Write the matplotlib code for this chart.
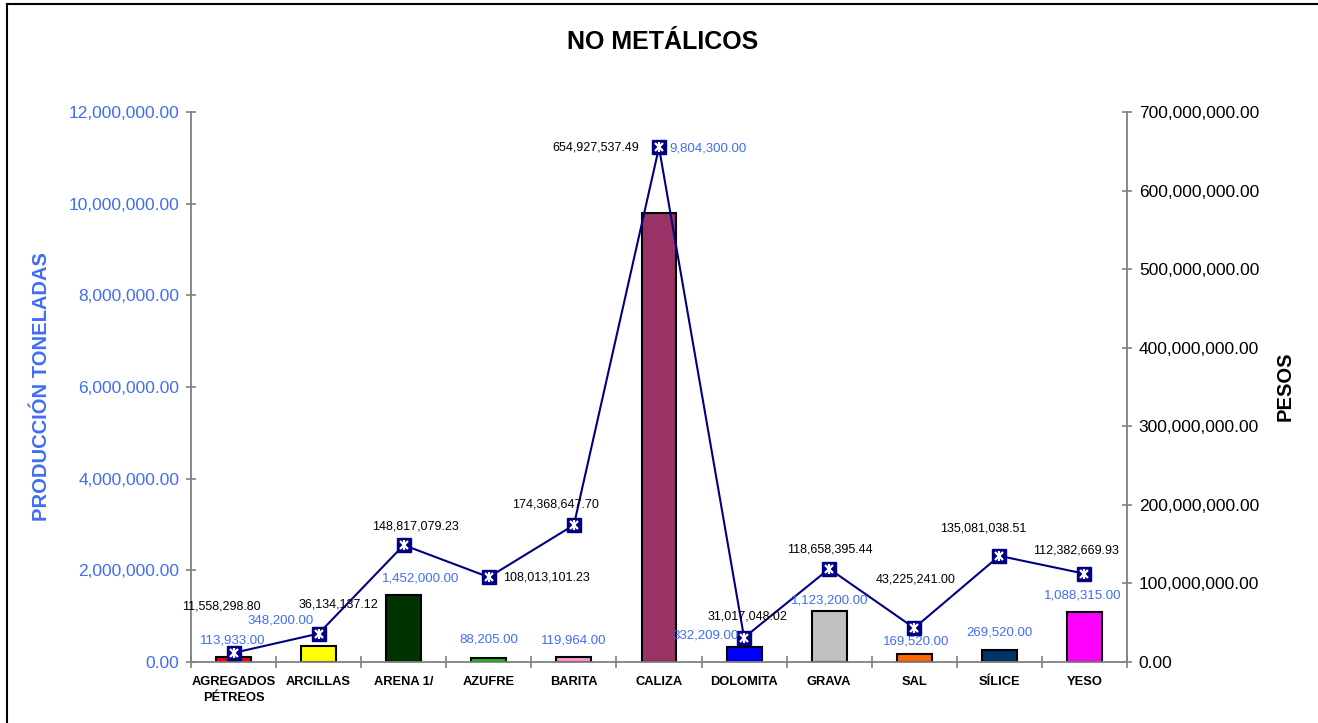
import matplotlib
matplotlib.use('Agg')
import matplotlib.pyplot as plt
import matplotlib.ticker as mticker
from matplotlib.lines import Line2D
import numpy as np

plt.rcParams['font.family'] = ['Liberation Sans', 'DejaVu Sans']

minerales = ['AGREGADOS\nPÉTREOS', 'ARCILLAS', 'ARENA 1/', 'AZUFRE', 'BARITA', 'CALIZA',
             'DOLOMITA', 'GRAVA', 'SAL', 'SÍLICE', 'YESO']
toneladas = [113933.00, 348200.00, 1452000.00, 88205.00, 119964.00, 9804300.00,
             332209.00, 1123200.00, 169520.00, 269520.00, 1088315.00]
pesos = [11558298.80, 36134137.12, 148817079.23, 108013101.23, 174368647.70, 654927537.49,
         31017048.02, 118658395.44, 43225241.00, 135081038.51, 112382669.93]
colores = ['#FF0000', '#FFFF00', '#003300', '#00CC00', '#FF99CC', '#993366',
           '#0000FF', '#C0C0C0', '#FF6600', '#003366', '#FF00FF']

# label offsets in pixels (dx, dy), as the labels were placed in the original sheet
off_pesos = [(-12, 46), (20, 29), (12, 19), (58, 0), (-18, 20), (-63, 0),
             (3, 21), (1, 19), (1, 49), (-16, 27), (-8, 23)]
off_ton = [(-1, 16), (-38, 26), (17, 17), (0, 18), (0, 16), (49, 64),
           (-39, 11), (1, 10), (2, 13), (0, 17), (-2, 17)]

azul = '#3F6DF5'
gris = '#808080'
navy = '#000080'

fig = plt.figure(figsize=[13.18, 7.23], dpi=100)
ax = fig.add_axes([191/1318, 1-662/723, 936/1318, 550/723])
ax2 = ax.twinx()

x = np.arange(len(minerales))
ax.bar(x, toneladas, width=0.41, color=colores, edgecolor='black', linewidth=1.5, zorder=2)
ax.set_xlim(-0.5, len(minerales)-0.5)
ax.set_ylim(0, 12000000)
ax.set_yticks(np.arange(0, 12000001, 2000000))
ax.yaxis.set_major_formatter(mticker.FuncFormatter(lambda v, p: '{:,.2f}'.format(v)))

ax2.plot(x, pesos, color=navy, linewidth=1.5, marker='s', markersize=10,
         markerfacecolor=navy, markeredgecolor=navy, zorder=3)
ax2.plot(x, pesos, linestyle='none', marker='x', markersize=6, markeredgewidth=1.6,
         color='white', zorder=4)
ax2.plot(x, pesos, linestyle='none', marker='|', markersize=7, markeredgewidth=1.6,
         color='white', zorder=4)
ax2.set_ylim(0, 700000000)
ax2.set_yticks(np.arange(0, 700000001, 100000000))
ax2.yaxis.set_major_formatter(mticker.FuncFormatter(lambda v, p: '{:,.2f}'.format(v)))

for a in (ax, ax2):
    for s in a.spines.values():
        s.set_visible(False)
ax.spines['left'].set_visible(True)
ax.spines['bottom'].set_visible(True)
ax2.spines['right'].set_visible(True)
for s in (ax.spines['left'], ax.spines['bottom'], ax2.spines['right']):
    s.set_color(gris)
    s.set_linewidth(1.3)

ax.tick_params(axis='y', direction='inout', length=7, width=1.2, color=gris,
               labelsize=12.5, labelcolor=azul, pad=5)
ax2.tick_params(axis='y', direction='inout', length=7, width=1.2, color=gris,
                labelsize=12.5, labelcolor='black', pad=5)

# x ticks at category boundaries, labels at centers
ax.set_xticks(np.arange(-0.5, len(minerales), 1))
ax.set_xticklabels([])
ax.tick_params(axis='x', which='major', direction='inout', length=8, width=1.2, color=gris)
ax.set_xticks(x, minor=True)
ax.set_xticklabels(minerales, minor=True, fontsize=9.3, fontweight='bold',
                   linespacing=1.5, va='top')
ax.tick_params(axis='x', which='minor', length=0, pad=10)

for i in x:
    ax2.annotate('{:,.2f}'.format(pesos[i]), (i, pesos[i]), xytext=off_pesos[i],
                 textcoords='offset pixels', ha='center', va='center',
                 fontsize=9, color='black', zorder=5)
    ax2.annotate('{:,.2f}'.format(toneladas[i]), (i, toneladas[i] / 12000000 * 700000000),
                 xytext=off_ton[i], textcoords='offset pixels', ha='center', va='center',
                 fontsize=9.5, color=azul, zorder=5)

fig.text(0.503, 1-42/723, 'NO METÁLICOS', ha='center', va='center',
         fontsize=18, fontweight='bold')
fig.text(42/1318, 1-387/723, 'PRODUCCIÓN TONELADAS', ha='center', va='center',
         rotation=90, fontsize=14.5, fontweight='bold', color=azul)
fig.text(1285/1318, 1-386/723, 'PESOS', ha='center', va='center',
         rotation=90, fontsize=14.5, fontweight='bold', color='black')

# chart frame: only the left and top edges fall inside the picture
fig.add_artist(Line2D([7/1318, 7/1318], [0, 1-4/723], transform=fig.transFigure,
                      color='black', linewidth=1.5))
fig.add_artist(Line2D([7/1318, 1], [1-4/723, 1-4/723], transform=fig.transFigure,
                      color='black', linewidth=1.5))

plt.savefig('out.png', dpi=100)
